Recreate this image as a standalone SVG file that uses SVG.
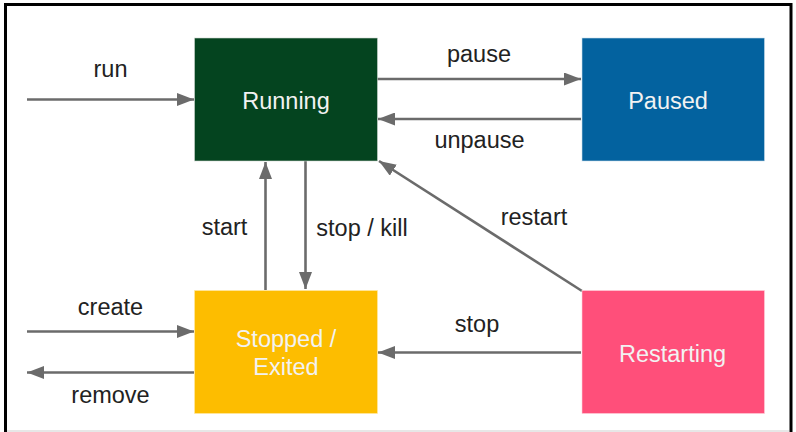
<svg xmlns="http://www.w3.org/2000/svg" width="796" height="432" viewBox="0 0 796 432">
<defs>
<marker id="ah" markerUnits="userSpaceOnUse" markerWidth="17" markerHeight="13" refX="17" refY="6.5" orient="auto">
<path d="M0,0 L17,6.5 L0,13 z" fill="#6b6b6b"/>
</marker>
<style>
.e{stroke:#6b6b6b;stroke-width:2.6;fill:none;marker-end:url(#ah)}
.n{font-family:"Liberation Sans",Arial,sans-serif;font-size:23.5px;fill:#f2f2f2;text-anchor:middle}
.l{font-family:"Liberation Sans",Arial,sans-serif;font-size:23.5px;fill:#222;text-anchor:middle}
</style>
</defs>
<rect width="796" height="432" fill="#fff"/>
<path d="M5.5,432 V4.5 H791 V432" fill="none" stroke="#000" stroke-width="3"/>
<line x1="7" y1="431" x2="789" y2="431" stroke="#d0d0d0" stroke-width="1.2"/>
<g id="connectors">
<line class="e" x1="27" y1="99.5" x2="194" y2="99.5"/>
<line class="e" x1="377" y1="79" x2="581" y2="79"/>
<line class="e" x1="581" y1="119" x2="378" y2="119"/>
<line class="e" x1="265.5" y1="290" x2="265.5" y2="162"/>
<line class="e" x1="305.5" y1="161" x2="305.5" y2="289"/>
<line class="e" x1="582" y1="291" x2="379" y2="161"/>
<line class="e" x1="581" y1="352.5" x2="378" y2="352.5"/>
<line class="e" x1="27" y1="331.5" x2="194" y2="331.5"/>
<line class="e" x1="194" y1="372.5" x2="27" y2="372.5"/>
<text class="l" x="110.5" y="77">run</text>
<text class="l" x="479" y="62">pause</text>
<text class="l" x="479.5" y="148">unpause</text>
<text class="l" x="534" y="225">restart</text>
<text class="l" x="224.5" y="235">start</text>
<text class="l" x="362" y="236">stop / kill</text>
<text class="l" x="110.5" y="315">create</text>
<text class="l" x="110.5" y="403">remove</text>
<text class="l" x="477" y="332">stop</text>
</g>
<g id="running">
<rect x="194.5" y="38" width="183" height="123" fill="#04441f" stroke="#cfd8d0" stroke-width="0.6"/>
<text class="n" x="286" y="109">Running</text>
</g>
<g id="paused">
<rect x="582" y="38" width="182.5" height="123" fill="#03629f" stroke="#c8dcea" stroke-width="0.6"/>
<text class="n" x="668" y="109">Paused</text>
</g>
<g id="stopped">
<rect x="194.5" y="290.5" width="183" height="123" fill="#fdbd00" stroke="#ffe9a8" stroke-width="0.6"/>
<text class="n" x="286" y="347">Stopped /</text>
<text class="n" x="286" y="375">Exited</text>
</g>
<g id="restarting">
<rect x="582" y="290.5" width="182.5" height="123" fill="#ff4f7a" stroke="#ffd0da" stroke-width="0.6"/>
<text class="n" x="672.5" y="362">Restarting</text>
</g>
</svg>
